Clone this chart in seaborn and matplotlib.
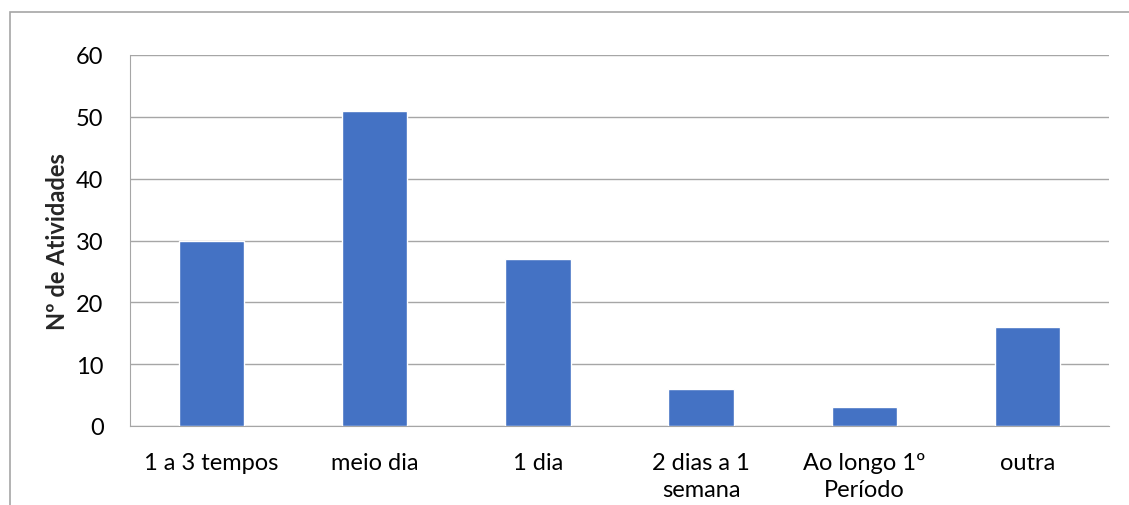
import matplotlib
matplotlib.use("Agg")
import matplotlib.pyplot as plt
import seaborn as sns
import pandas as pd
from matplotlib.patches import Rectangle

# Data
categories = ["1 a 3 tempos", "meio dia", "1 dia", "2 dias a 1\nsemana",
              "Ao longo 1º\nPeríodo", "outra"]
atividades = [30, 51, 27, 6, 3, 16]

df = pd.DataFrame({"categoria": categories, "n": atividades})

sns.set_style("white")
plt.rcParams['font.family'] = ['Lato', 'DejaVu Sans']

fig = plt.figure(figsize=(11.29, 5.06), dpi=100)
ax = fig.add_axes([130 / 1129, 1 - 427 / 506, 979 / 1129, 371 / 506])

sns.barplot(data=df, x="categoria", y="n", color="#4472C4", width=0.4,
            saturation=1, ax=ax, zorder=3)

ax.set_ylim(0, 60)
ax.set_yticks(range(0, 61, 10))
ax.yaxis.grid(True, color="#a6a6a6", linewidth=1, zorder=0)
ax.set_axisbelow(True)
for s in ["top", "right"]:
    ax.spines[s].set_visible(False)
ax.spines["left"].set_color("#a6a6a6")
ax.spines["bottom"].set_color("#a6a6a6")
ax.tick_params(axis="both", length=0, labelsize=17, colors="black")
ax.tick_params(axis="y", pad=19)
ax.tick_params(axis="x", pad=19)
for lbl in ax.get_xticklabels():
    lbl.set_linespacing(1.35)
ax.set_xlabel("")
ax.set_ylabel("Nº de Atividades", fontsize=17, fontweight="bold", labelpad=5)

# outer chart frame (only top and left edges fall inside the image)
fig.patches.append(Rectangle((10 / 1129, -0.1), 1.2, 1 - 13 / 506 + 0.1,
                             transform=fig.transFigure, fill=False,
                             edgecolor="#a6a6a6", linewidth=1.2))

fig.savefig("out.png", dpi=100)
